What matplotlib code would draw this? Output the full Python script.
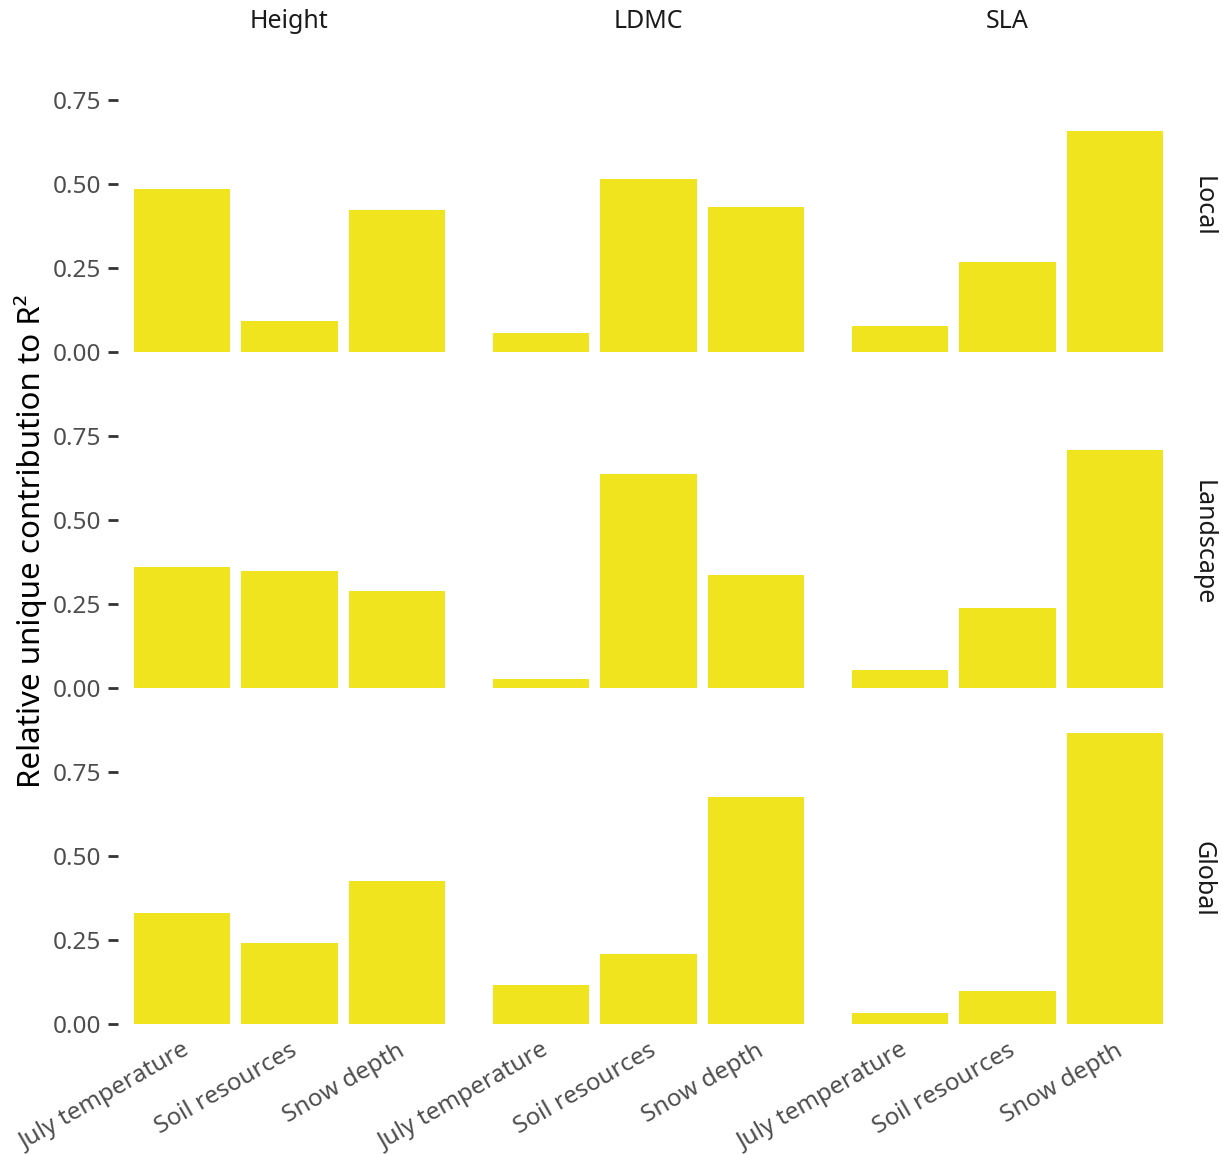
import matplotlib
matplotlib.use("Agg")
import matplotlib.pyplot as plt

plt.rcParams['font.family'] = ['Noto Sans', 'DejaVu Sans']

predictors = ["July temperature", "Soil resources", "Snow depth"]
traits = ["Height", "LDMC", "SLA"]
scales = ["Local", "Landscape", "Global"]

# relative unique contribution, one list per scale, per trait
local_height = [0.485, 0.092, 0.423]
local_ldmc = [0.057, 0.515, 0.432]
local_sla = [0.077, 0.268, 0.658]
landscape_height = [0.360, 0.348, 0.289]
landscape_ldmc = [0.027, 0.637, 0.336]
landscape_sla = [0.054, 0.238, 0.708]
global_height = [0.330, 0.241, 0.426]
global_ldmc = [0.116, 0.208, 0.676]
global_sla = [0.033, 0.098, 0.866]

values = {
    "Local": [local_height, local_ldmc, local_sla],
    "Landscape": [landscape_height, landscape_ldmc, landscape_sla],
    "Global": [global_height, global_ldmc, global_sla],
}

W, H = 1223, 1154
fig = plt.figure(figsize=(W / 100, H / 100), dpi=100)

bar_col = "#F0E41E"
ymax = max(max(v) for row in values.values() for v in row)
ylim = (-0.05 * ymax, 1.05 * ymax)

left0, col_step, pw = 117.5, 359, 344
top0, row_step, ph = 46.6, 336, 320

for r, sc in enumerate(scales):
    for c, tr in enumerate(traits):
        x0 = left0 + c * col_step
        y0 = top0 + r * row_step
        ax = fig.add_axes([x0 / W, 1 - (y0 + ph) / H, pw / W, ph / H])
        ax.bar(range(3), values[sc][c], width=0.9, color=bar_col)
        ax.set_xlim(-0.6, 2.6)
        ax.set_ylim(*ylim)
        for s in ax.spines.values():
            s.set_visible(False)
        ax.set_yticks([0, 0.25, 0.5, 0.75])
        if c == 0:
            ax.set_yticklabels(["0.00", "0.25", "0.50", "0.75"])
            ax.tick_params(axis="y", length=7, width=2, color="#333333",
                           labelsize=17.5, labelcolor="#4D4D4D", pad=5)
        else:
            ax.tick_params(axis="y", left=False, labelleft=False)
        ax.set_xticks(range(3))
        if r == 2:
            ax.set_xticklabels(predictors, rotation=30, ha="right",
                               rotation_mode="anchor")
            ax.tick_params(axis="x", length=0, labelsize=17.5,
                           labelcolor="#4D4D4D", pad=0)
        else:
            ax.tick_params(axis="x", bottom=False, labelbottom=False)
        if r == 0:
            fig.text((x0 + pw / 2) / W, 1 - 22 / H, tr, ha="center",
                     va="center", fontsize=18, color="#1A1A1A")
        if c == 2:
            fig.text(1203 / W, 1 - (y0 + ph / 2) / H, sc, rotation=-90,
                     ha="center", va="center", fontsize=18, color="#1A1A1A")

fig.text(30 / W, 1 - 541 / H, "Relative unique contribution to R²",
         rotation=90, ha="center", va="center", fontsize=22.5, color="black")

fig.savefig("out.png", dpi=100)
